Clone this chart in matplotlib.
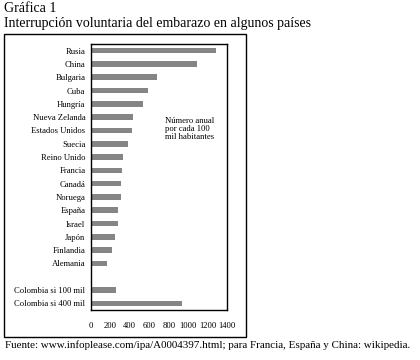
import matplotlib
matplotlib.use("Agg")
import matplotlib.pyplot as plt
from matplotlib.patches import Rectangle

countries = ["Rusia", "China", "Bulgaria", "Cuba", "Hungría", "Nueva Zelanda",
             "Estados Unidos", "Suecia", "Reino Unido", "Francia", "Canadá",
             "Noruega", "España", "Israel", "Japón", "Finlandia", "Alemania",
             "", "Colombia si 100 mil", "Colombia si 400 mil"]
values = [1290, 1090, 676, 591, 536, 437, 420, 382, 328, 314, 311, 307,
          280, 273, 246, 215, 161, None, 259, 935]
xticks = [0, 200, 400, 600, 800, 1000, 1200, 1400]

plt.rcParams['font.family'] = ['Liberation Serif', 'DejaVu Serif']

W, H = 420, 360
fig = plt.figure(figsize=(4.2, 3.6), dpi=100)
ax = fig.add_axes([91 / W, 1 - 310 / H, (227 - 91) / W, (310 - 44) / H])

pos = [i for i, v in enumerate(values) if v is not None]
vals = [v for v in values if v is not None]
ax.barh(pos, vals, height=0.42, color="#858585")
ax.set_ylim(len(values) - 0.5, -0.5)
ax.set_xlim(0, 1400)
ax.set_yticks(range(len(values)))
ax.set_yticklabels(countries, fontsize=6.2)
ax.set_xticks(xticks)
ax.set_xticklabels([str(t) for t in xticks], fontsize=6.2)
ax.tick_params(axis='both', length=0)
ax.tick_params(axis='x', pad=9)
ax.tick_params(axis='y', pad=4)
for s in ax.spines.values():
    s.set_linewidth(1.0)
    s.set_color("black")

ax.text(0.545, 0.725, "Número anual\npor cada 100\nmil habitantes", transform=ax.transAxes,
        fontsize=6.2, va="top", ha="left", linespacing=1.0)

fig.patches.append(Rectangle((4 / W, 1 - 337 / H), (246 - 4) / W, (337 - 34) / H,
                             transform=fig.transFigure, fill=False, edgecolor="black",
                             linewidth=1.0))

fig.text(4 / W, 1 - 9 / H, "Gráfica 1", fontsize=10, va="center", ha="left")
fig.text(4 / W, 1 - 23 / H, "Interrupción voluntaria del embarazo en algunos países",
         fontsize=10, va="center", ha="left")
fig.text(5 / W, 1 - 345 / H,
         "Fuente: www.infoplease.com/ipa/A0004397.html; para Francia, España y China: wikipedia.",
         fontsize=7.9, va="center", ha="left")

fig.savefig("out.png", dpi=100)
